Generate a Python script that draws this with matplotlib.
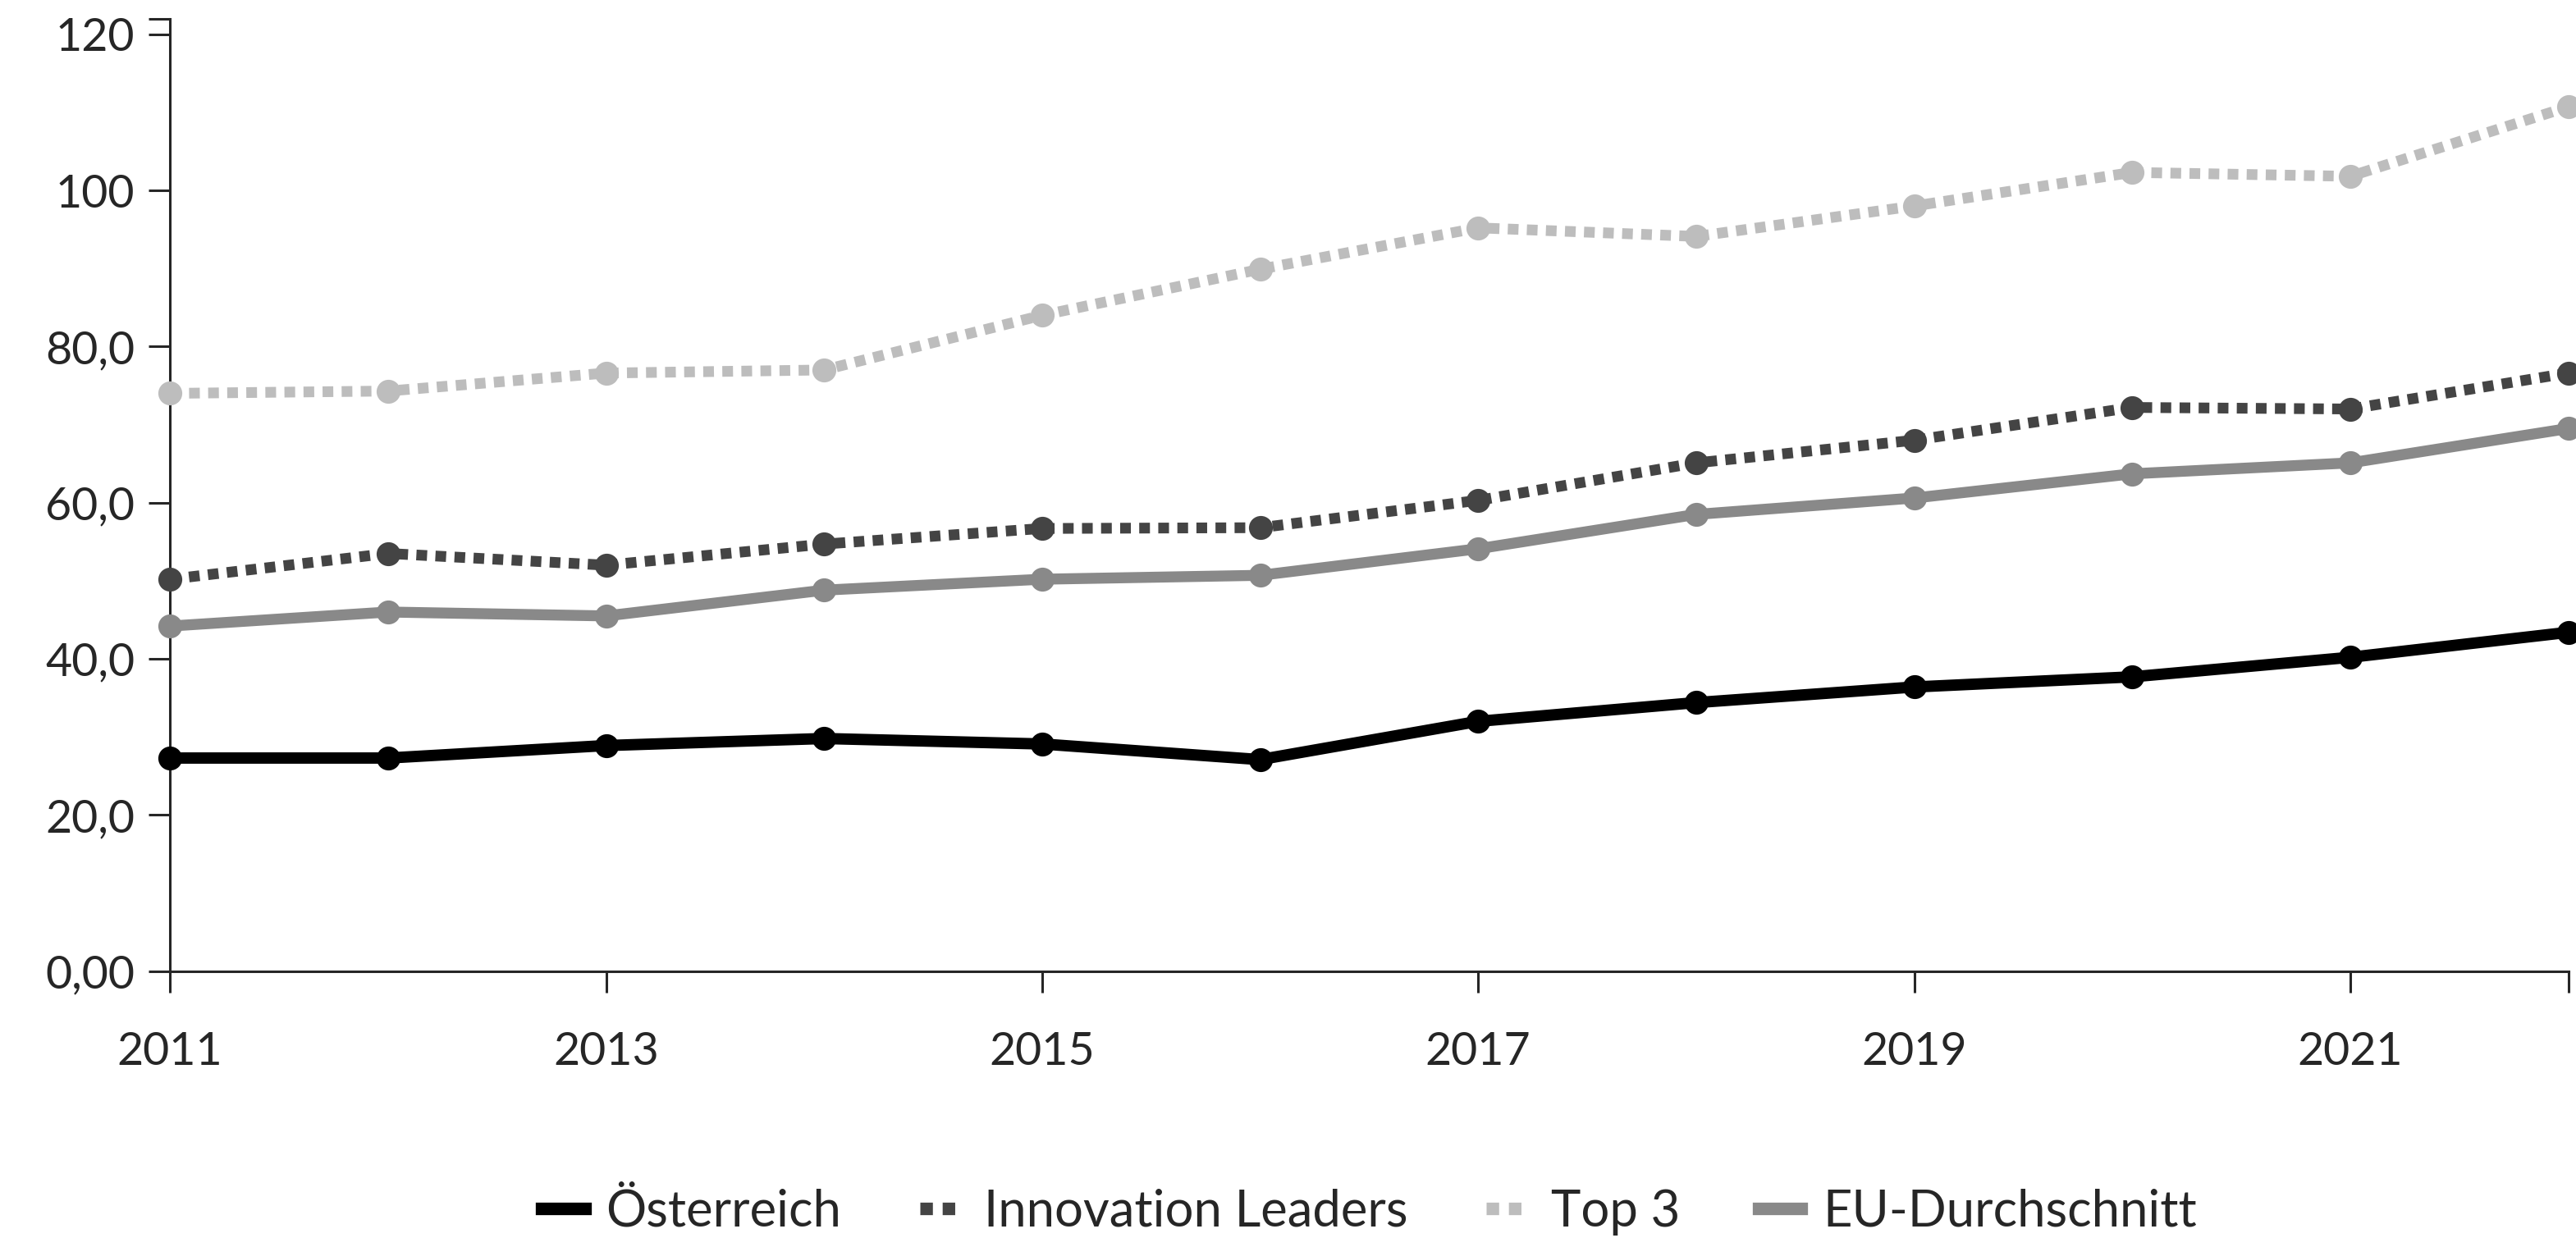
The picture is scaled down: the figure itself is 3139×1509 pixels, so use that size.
#!/usr/bin/env python3
# -*- coding: utf-8 -*-

"""
Line chart: Österreich vs. Innovation Leaders, Top 3 and EU average.
"""

import matplotlib
matplotlib.use("Agg")
from matplotlib import pyplot as plt


# DATA ########################################################################

years = [2011, 2012, 2013, 2014, 2015, 2016, 2017, 2018, 2019, 2020, 2021, 2022]

oesterreich = [27.3, 27.3, 28.9, 29.8, 29.1, 27.1, 32.0, 34.4, 36.4, 37.7, 40.2, 43.4]
innovation_leaders = [50.2, 53.5, 52.0, 54.7, 56.7, 56.8, 60.3, 65.1, 68.0, 72.2, 72.0, 76.6]
top3 = [74.0, 74.3, 76.6, 77.0, 84.0, 89.9, 95.2, 94.1, 98.0, 102.3, 101.8, 110.7]
eu_durchschnitt = [44.2, 46.0, 45.5, 48.8, 50.2, 50.7, 54.1, 58.5, 60.6, 63.7, 65.1, 69.5]

series_names = ["Österreich", "Innovation Leaders", "Top 3", "EU-Durchschnitt"]

y_ticks = [0, 20, 40, 60, 80, 100, 120]
y_tick_labels = ["0,00", "20,0", "40,0", "60,0", "80,0", "100", "120"]
x_ticks = [2011, 2013, 2015, 2017, 2019, 2021]

# STYLE #######################################################################

FONT = ["Lato", "DejaVu Sans"]
TICK_SIZE = 20
LEGEND_SIZE = 22.2
AXIS_COLOR = "#262626"
DOTS = (0, (1.0, 0.78))

plt.rcParams["font.family"] = FONT

fig = plt.figure(figsize=(15.695, 7.545), dpi=200)
AX_RECT = [0.066, 0.2155, 0.931, 0.7695]
ax = fig.add_axes(AX_RECT)

# PLOT ########################################################################

common = dict(marker="o", markersize=9.5, clip_on=False)

l_top3, = ax.plot(years, top3, color="#bdbdbd", lw=4.7, linestyle=DOTS,
                  dash_capstyle="butt", label=series_names[2], zorder=3, **common)
l_il, = ax.plot(years, innovation_leaders, color="#444444", lw=4.7, linestyle=DOTS,
                dash_capstyle="butt", label=series_names[1], zorder=4, **common)
l_eu, = ax.plot(years, eu_durchschnitt, color="#898989", lw=4.8,
                label=series_names[3], zorder=5, **common)
l_at, = ax.plot(years, oesterreich, color="#000000", lw=5.0,
                label=series_names[0], zorder=6, **common)

# AXES ########################################################################

ax.set_xlim(years[0], years[-1])
ax.set_ylim(0, 122)

ax.set_yticks(y_ticks)
ax.set_yticklabels(y_tick_labels)
ax.set_yticks([122], minor=True)
ax.set_xticks(x_ticks)
ax.set_xticklabels([str(y) for y in x_ticks])
ax.set_xticks([2022], minor=True)

for side in ("top", "right"):
    ax.spines[side].set_visible(False)
for side in ("left", "bottom"):
    ax.spines[side].set_color(AXIS_COLOR)
    ax.spines[side].set_linewidth(1.1)

ax.tick_params(axis="both", which="both", length=9.5, width=1.1,
               color=AXIS_COLOR, labelcolor=AXIS_COLOR, labelsize=TICK_SIZE)
ax.tick_params(axis="y", which="both", pad=6)
ax.tick_params(axis="x", which="both", pad=17)

# LEGEND ######################################################################

leg_x = AX_RECT[0] + AX_RECT[2] / 2
leg = fig.legend([l_at, l_il, l_top3, l_eu], series_names,
                 loc="center", bbox_to_anchor=(leg_x, 0.021), ncol=4,
                 frameon=False, fontsize=LEGEND_SIZE, handlelength=0.85,
                 handletextpad=0.42, columnspacing=1.55,
                 borderpad=0, borderaxespad=0)
for line in leg.get_lines():
    line.set_marker("")
    line.set_linewidth(5.5)
for text in leg.get_texts():
    text.set_color(AXIS_COLOR)

fig.savefig("out.png", dpi=200)
